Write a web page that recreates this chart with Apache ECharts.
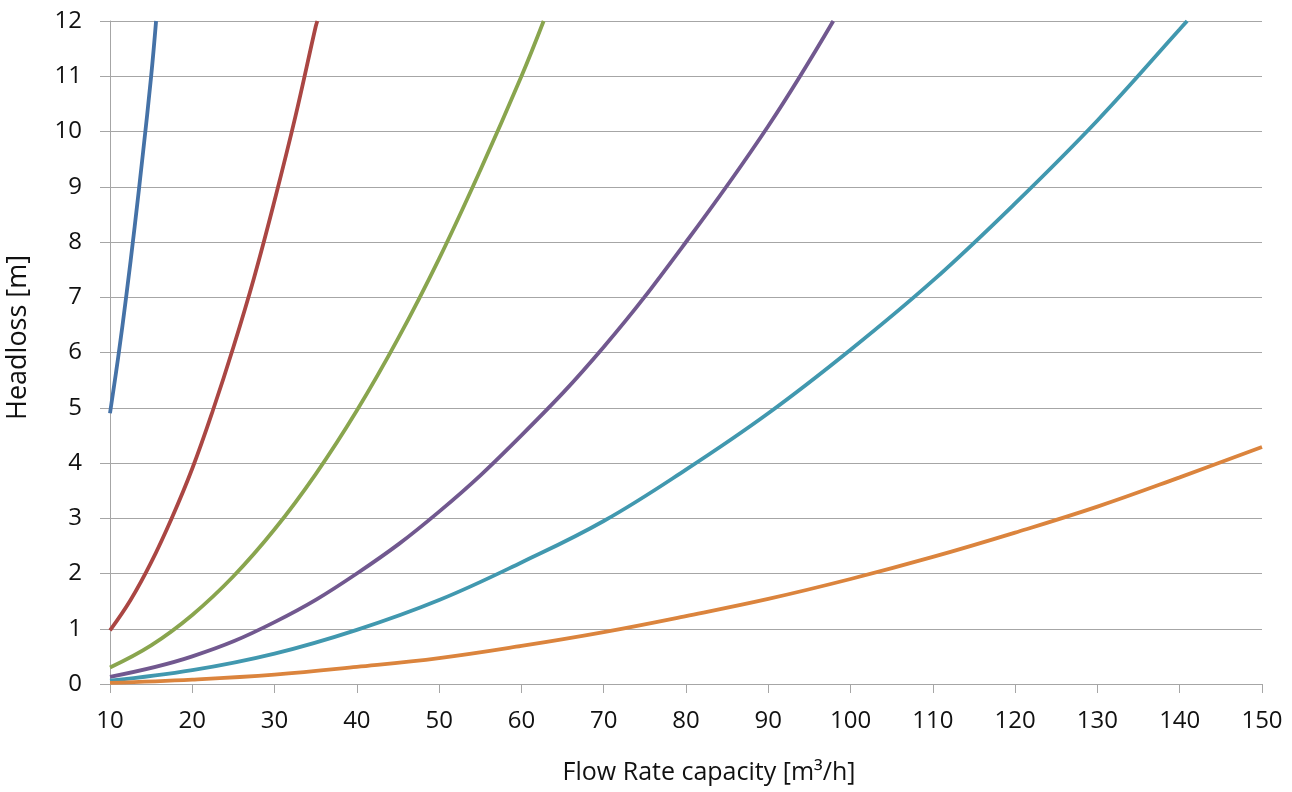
<!DOCTYPE html>
<html>
<head>
<meta charset="utf-8">
<title>Headloss vs Flow Rate</title>
<script src="https://cdn.jsdelivr.net/npm/echarts@6/dist/echarts.min.js"></script>
<style>
  html, body { margin: 0; padding: 0; background: #ffffff; }
  #chart { width: 1292px; height: 792px; }
</style>
</head>
<body>
<div id="chart"></div>
<script>
// Flow rate [m³/h] and headloss [m] readings for each pipe curve
const flow1 = [10, 11, 12, 13, 14, 15, 15.6];
const head1 = [4.9, 5.92, 7.05, 8.28, 9.6, 11.0, 12.0];

const flow2 = [10, 12.5, 15, 17.5, 20, 22.5, 25, 27.5, 30, 32.5, 35, 35.2];
const head2 = [0.97, 1.52, 2.2, 3.0, 3.9, 4.95, 6.1, 7.35, 8.75, 10.25, 11.9, 12.0];

const flow3 = [10, 15, 20, 25, 30, 35, 40, 45, 50, 55, 60, 62.7];
const head3 = [0.3, 0.7, 1.25, 1.95, 2.8, 3.8, 4.95, 6.25, 7.7, 9.3, 11.0, 12.0];

const flow4 = [10, 20, 30, 40, 50, 60, 70, 80, 90, 97.9];
const head4 = [0.13, 0.5, 1.12, 2.0, 3.12, 4.5, 6.1, 8.0, 10.1, 12.0];

const flow5 = [10, 20, 30, 40, 50, 60, 70, 80, 90, 100, 110, 120, 130, 140, 140.9];
const head5 = [0.06, 0.25, 0.55, 0.98, 1.52, 2.2, 2.95, 3.88, 4.9, 6.05, 7.3, 8.7, 10.2, 11.85, 12.0];

const flow6 = [10, 20, 30, 40, 50, 60, 70, 80, 90, 100, 110, 120, 130, 140, 150];
const head6 = [0.02, 0.08, 0.17, 0.31, 0.47, 0.69, 0.94, 1.23, 1.54, 1.9, 2.3, 2.74, 3.21, 3.74, 4.29];

const curveNames = ['Series 1', 'Series 2', 'Series 3', 'Series 4', 'Series 5', 'Series 6'];
const curveColors = ['#4572A7', '#AA4643', '#89A54E', '#71588F', '#4198AF', '#DB843D'];
const curveFlows = [flow1, flow2, flow3, flow4, flow5, flow6];
const curveHeads = [head1, head2, head3, head4, head5, head6];

const xTitle = 'Flow Rate capacity [m³/h]';
const yTitle = 'Headloss [m]';

const fontFamily = '"Open Sans", "Noto Sans", sans-serif';
const gridGray = '#a6a6a6';

function pairs(xs, ys) {
  return xs.map((x, i) => [x, ys[i]]);
}

const chart = echarts.init(document.getElementById('chart'), null, { renderer: 'canvas' });

chart.setOption({
  backgroundColor: '#ffffff',
  animation: false,
  grid: {
    left: 110, right: 30, top: 21, bottom: 108,
    containLabel: false,
    outerBoundsMode: 'none'
  },
  xAxis: {
    type: 'value',
    min: 10,
    max: 150,
    interval: 10,
    name: xTitle,
    nameLocation: 'middle',
    nameGap: 76,
    nameTextStyle: { fontFamily, fontSize: 25, color: '#111', padding: [0, 0, 0, 46] },
    axisLine: { show: true, lineStyle: { color: gridGray, width: 1 } },
    axisTick: { show: true, inside: false, length: 9, lineStyle: { color: gridGray, width: 1 } },
    axisLabel: { fontFamily, fontSize: 24, color: '#111', margin: 25 },
    splitLine: { show: false }
  },
  yAxis: {
    type: 'value',
    min: 0,
    max: 12,
    interval: 1,
    name: yTitle,
    nameLocation: 'middle',
    nameGap: 78,
    nameRotate: 90,
    nameTextStyle: { fontFamily, fontSize: 27, color: '#111', padding: [0, 0, 0, 30] },
    axisLine: { show: true, lineStyle: { color: gridGray, width: 1 } },
    axisTick: { show: true, inside: false, length: 10, lineStyle: { color: gridGray, width: 1 } },
    axisLabel: { fontFamily, fontSize: 24, color: '#111', margin: 28 },
    splitLine: { show: true, lineStyle: { color: gridGray, width: 1 } }
  },
  series: curveNames.map((name, i) => ({
    name,
    type: 'line',
    data: pairs(curveFlows[i], curveHeads[i]),
    smooth: 0.4,
    showSymbol: false,
    clip: true,
    lineStyle: { color: curveColors[i], width: 3.8 },
    itemStyle: { color: curveColors[i] }
  }))
});
</script>
</body>
</html>
